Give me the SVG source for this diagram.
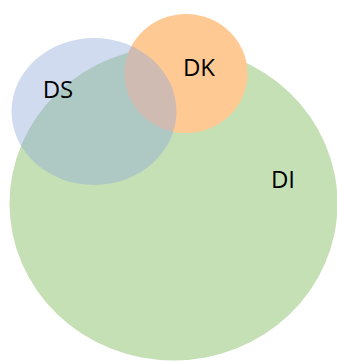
<svg xmlns="http://www.w3.org/2000/svg" width="337" height="361" viewBox="0 0 337 361">
<style>
.lbl{font-family:"Open Sans","Noto Sans",sans-serif;font-size:24px;fill:#000;text-anchor:middle}
</style>
<rect width="337" height="361" fill="#fff"/>
<g id="DI">
<ellipse cx="173.5" cy="203.5" rx="164" ry="157" fill="#C5E0B4"/>
<text class="lbl" x="283" y="188">DI</text>
</g>
<g id="DK">
<ellipse cx="186" cy="73.5" rx="61.5" ry="59.5" fill="#FFC994"/>
<text class="lbl" x="199" y="76">DK</text>
</g>
<g id="DS">
<ellipse cx="94" cy="111.5" rx="82.5" ry="73.5" fill="#8FAADC" fill-opacity="0.42"/>
<text class="lbl" x="58" y="98">DS</text>
</g>
<g id="connectors"/>
</svg>
